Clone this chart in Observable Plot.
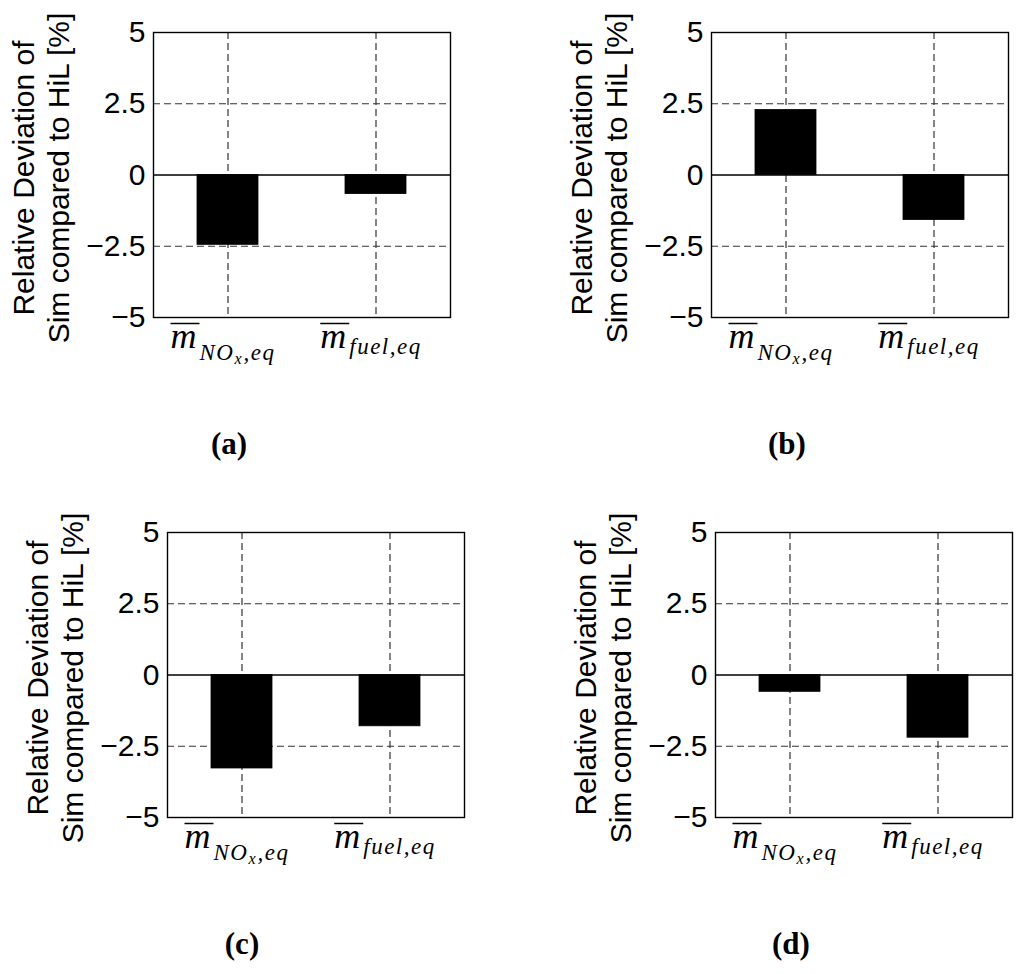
<!DOCTYPE html>
<html>
<head>
<meta charset="utf-8">
<script src="https://cdn.jsdelivr.net/npm/d3@7"></script>
<script src="https://cdn.jsdelivr.net/npm/@observablehq/plot@0.6"></script>
<style>
  html, body { margin: 0; padding: 0; background: white; }
  #wrap { position: relative; width: 1024px; height: 974px; background: white; overflow: hidden; }
  .panel { position: absolute; }
  .cap { position: absolute; width: 100px; text-align: center; font-family: "Liberation Serif", serif; font-weight: bold; font-size: 31px; line-height: 30px; color: black; }
</style>
</head>
<body>
<div id="wrap"></div>
<script>
// ---- data ----
const categories = ["NOx,eq", "fuel,eq"];
const valuesA = [-2.45, -0.67];
const valuesB = [2.28, -1.58];
const valuesC = [-3.28, -1.80];
const valuesD = [-0.59, -2.20];
const panelCaptions = ["(a)", "(b)", "(c)", "(d)"];
const yTicks = [-5, -2.5, 0, 2.5, 5];
const yGrid = [-2.5, 2.5];
const yLabel = "Relative Deviation of\nSim compared to HiL [%]";
const tickMain = ["m", "m"];
const tickSub = ["NO", "fuel"];
const tickSubSub = ["x", ""];
const tickTail = [",eq", ",eq"];

// ---- layout (styles/positions) ----
const panels = [
  {values: valuesA, left: 0, top: 0, capLeft: 179, capTop: 429},
  {values: valuesB, left: 558, top: 0, capLeft: 737, capTop: 429},
  {values: valuesC, left: 14, top: 500, capLeft: 192, capTop: 929},
  {values: valuesD, left: 562, top: 500, capLeft: 741, capTop: 929}
];
const subShift = [12.6, 6.6];

const SVGNS = "http://www.w3.org/2000/svg";
function tspan(parent, text, attrs) {
  const t = document.createElementNS(SVGNS, "tspan");
  for (const k in attrs) t.setAttribute(k, attrs[k]);
  t.textContent = text;
  parent.appendChild(t);
  return t;
}

const wrap = document.getElementById("wrap");

panels.forEach((p, pi) => {
  const data = categories.map((c, i) => ({cat: c, value: p.values[i]}));
  const chart = Plot.plot({
    width: 460,
    height: 377,
    marginLeft: 153,
    marginRight: 10,
    marginTop: 32,
    marginBottom: 60,
    style: {fontFamily: "'Liberation Sans', Arial, sans-serif", fontSize: "30px", background: "white", color: "black", overflow: "visible"},
    x: {type: "band", domain: categories, paddingInner: 0.59, paddingOuter: 0.295},
    y: {domain: [-5, 5]},
    marks: [
      Plot.ruleY(yGrid, {stroke: "#333", strokeWidth: 1.2, strokeDasharray: "7,4"}),
      Plot.ruleX(categories, {stroke: "#333", strokeWidth: 1.2, strokeDasharray: "7,4"}),
      Plot.barY(data, {x: "cat", y: "value", fill: "black", stroke: "black", strokeWidth: 0.8}),
      Plot.ruleY([0], {stroke: "black", strokeWidth: 1.4}),
      Plot.frame({stroke: "black", strokeWidth: 1.4}),
      Plot.axisY({ticks: yTicks, tickSize: 0, tickPadding: 8, label: null, fontSize: 30,
        tickFormat: d => (d < 0 ? "\u2212" + Math.abs(d) : String(d))}),
      Plot.axisX({tickSize: 0, tickPadding: 30, label: null}),
      Plot.text([yLabel], {text: d => d, frameAnchor: "left", rotate: -90, dx: -84.4, dy: 3,
        lineHeight: 1.1667, lineAnchor: "bottom", textAnchor: "middle", fontSize: 30, fill: "black"})
    ]
  });

  const div = document.createElement("div");
  div.className = "panel";
  div.style.left = p.left + "px";
  div.style.top = p.top + "px";
  div.appendChild(chart);
  wrap.appendChild(div);

  // math-style x tick labels
  chart.querySelectorAll('g[aria-label="x-axis tick label"] text').forEach(t => {
    const i = categories.indexOf(t.textContent);
    if (i < 0) return;
    t.textContent = "";
    t.setAttribute("y", "0");
    t.removeAttribute("dy");
    t.setAttribute("dx", "-5");
    t.setAttribute("font-family", "'Liberation Serif', 'Times New Roman', serif");
    t.setAttribute("font-style", "italic");
    t.setAttribute("text-anchor", "middle");
    tspan(t, tickMain[i], {"font-size": 36, "letter-spacing": 3});
    tspan(t, tickSub[i], {"font-size": 23, "dy": subShift[i], "letter-spacing": 1.5});
    if (tickSubSub[i]) {
      tspan(t, tickSubSub[i], {"font-size": 16, "dy": 3.7, "letter-spacing": 2});
      tspan(t, tickTail[i], {"font-size": 23, "dy": -3.7, "letter-spacing": 1.5});
    } else {
      tspan(t, tickTail[i], {"font-size": 23, "letter-spacing": 1.5});
    }
    // overline above the m
    const ext = t.getExtentOfChar(0);
    const line = document.createElementNS(SVGNS, "line");
    line.setAttribute("x1", ext.x);
    line.setAttribute("x2", ext.x + ext.width);
    line.setAttribute("y1", -24);
    line.setAttribute("y2", -24);
    line.setAttribute("stroke", "black");
    line.setAttribute("stroke-width", 1.5);
    const tr = t.getAttribute("transform");
    if (tr) line.setAttribute("transform", tr);
    t.parentNode.appendChild(line);
  });

  const cap = document.createElement("div");
  cap.className = "cap";
  cap.style.left = p.capLeft + "px";
  cap.style.top = p.capTop + "px";
  cap.textContent = panelCaptions[pi];
  wrap.appendChild(cap);
});
</script>
</body>
</html>
